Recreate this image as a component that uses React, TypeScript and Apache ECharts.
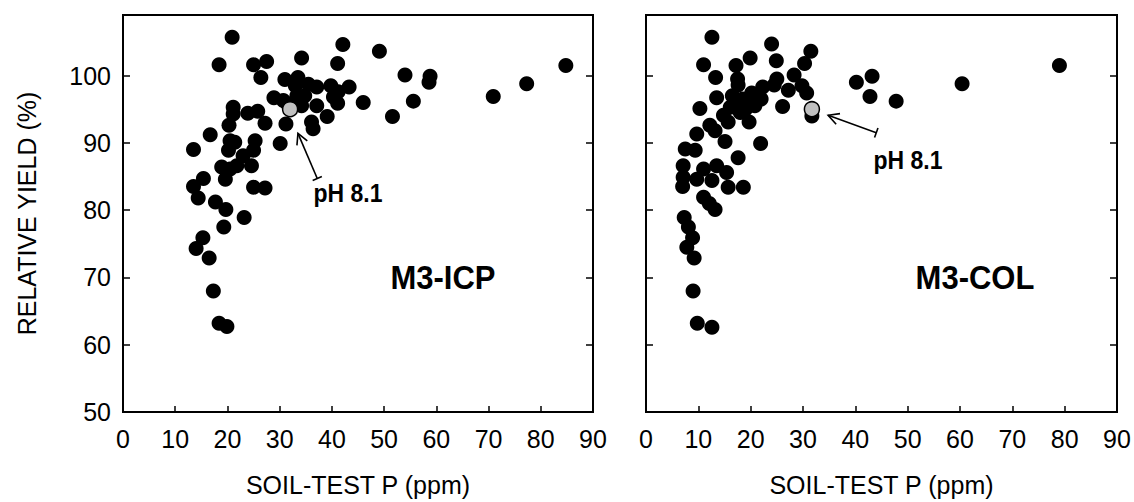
import React, { useEffect, useRef } from "react";
import * as echarts from "echarts";

const xTicks = [0, 10, 20, 30, 40, 50, 60, 70, 80, 90];
const yTicks = [50, 60, 70, 80, 90, 100];

// M3-ICP panel: soil-test P (ppm) and relative yield (%)
const icpP = [20.9, 18.4, 25.0, 27.5, 34.2, 26.4, 31.0, 33.5, 35.5, 37.1, 28.9, 30.7, 33.3, 34.2, 37.1, 31.2, 36.1, 36.4, 21.1, 21.1, 23.9, 25.8, 27.2, 20.3, 16.7, 20.5, 21.4, 25.3, 25.0, 20.2, 30.1, 13.5, 23.0, 24.6, 18.9, 20.5, 21.8, 15.4, 25.0, 27.2, 19.6, 13.5, 14.4, 17.7, 19.7, 23.2, 19.3, 15.3, 14.0, 16.5, 17.3, 18.4, 19.9, 42.1, 49.1, 41.1, 54.0, 58.8, 58.6, 39.8, 43.3, 41.2, 40.3, 41.1, 46.0, 55.6, 39.1, 51.6, 70.9, 77.3, 84.8, 33.0, 34.8, 31.5];
const icpYield = [105.7, 101.6, 101.6, 102.1, 102.6, 99.7, 99.4, 99.7, 98.7, 98.3, 96.7, 96.3, 97.0, 95.5, 95.5, 92.8, 93.1, 92.1, 95.3, 94.3, 94.4, 94.7, 92.9, 92.6, 91.2, 90.3, 90.1, 90.3, 88.9, 88.9, 89.9, 89.0, 88.1, 86.6, 86.4, 86.1, 86.6, 84.7, 83.4, 83.3, 84.6, 83.5, 81.8, 81.2, 80.1, 78.9, 77.5, 75.9, 74.3, 72.9, 68.0, 63.2, 62.7, 104.6, 103.6, 101.8, 100.1, 99.9, 99.0, 98.5, 98.3, 97.6, 96.8, 95.9, 96.0, 96.2, 93.9, 93.9, 96.9, 98.8, 101.5, 98.5, 97.0, 95.8];

// M3-COL panel
const colP = [12.6, 11.0, 13.3, 17.2, 19.9, 24.0, 24.9, 31.5, 30.3, 28.3, 25.0, 17.5, 17.6, 22.3, 24.5, 27.2, 29.8, 30.7, 20.2, 13.5, 17.3, 19.3, 20.8, 16.1, 14.8, 18.0, 19.7, 15.7, 26.1, 10.3, 31.7, 12.2, 13.2, 9.7, 15.1, 21.9, 7.5, 9.4, 17.6, 7.1, 11.0, 13.5, 15.4, 7.1, 9.7, 12.6, 18.6, 7.0, 15.7, 11.0, 12.1, 13.2, 7.3, 8.1, 8.9, 7.8, 9.2, 9.0, 9.8, 12.6, 40.2, 43.2, 42.8, 47.8, 60.4, 79.0, 18.5, 16.5, 19.0, 22.0];
const colYield = [105.7, 101.6, 99.7, 101.5, 102.6, 104.7, 102.2, 103.6, 101.8, 100.1, 99.5, 99.5, 98.6, 98.3, 98.6, 97.8, 98.5, 97.4, 97.4, 96.7, 96.0, 96.0, 95.5, 95.3, 94.1, 94.5, 93.1, 93.1, 95.4, 95.1, 94.0, 92.6, 91.8, 91.3, 90.2, 89.9, 89.1, 88.9, 87.8, 86.6, 86.1, 86.6, 85.6, 84.9, 84.6, 84.4, 83.4, 83.5, 83.4, 81.9, 81.0, 80.1, 78.9, 77.5, 75.9, 74.5, 72.9, 68.0, 63.2, 62.6, 99.0, 99.9, 96.9, 96.2, 98.8, 101.5, 96.5, 97.0, 95.0, 96.5];

// highlighted pH 8.1 site
const icpHighlight = [32.0, 95.0];
const colHighlight = [31.7, 95.0];

// arrows: [headP, headYield, tailP, tailYield]
const icpArrow = [33.5, 91.4, 37.2, 84.7];
const colArrow = [34.8, 94.1, 44.0, 91.5];

const FONT = "'Liberation Sans', Arial, Helvetica, sans-serif";

const pairs = (xs: number[], ys: number[]) => xs.map((x, i) => [x, ys[i]]);

function arrowRender(params: any, api: any) {
  const head = api.coord([api.value(0), api.value(1)]);
  const tail = api.coord([api.value(2), api.value(3)]);
  const dx = head[0] - tail[0];
  const dy = head[1] - tail[1];
  const len = Math.sqrt(dx * dx + dy * dy) || 1;
  const ux = dx / len;
  const uy = dy / len;
  const ah = 12;
  const ang = (28 * Math.PI) / 180;
  const rot = (a: number) => [
    head[0] - ah * (ux * Math.cos(a) - uy * Math.sin(a)),
    head[1] - ah * (ux * Math.sin(a) + uy * Math.cos(a)),
  ];
  const a1 = rot(ang);
  const a2 = rot(-ang);
  const px = -uy;
  const py = ux;
  const bl = 5;
  const st = { stroke: "#000", lineWidth: 1.6, fill: "none" };
  return {
    type: "group",
    children: [
      { type: "line", shape: { x1: tail[0], y1: tail[1], x2: head[0], y2: head[1] }, style: st },
      { type: "polyline", shape: { points: [a1, head, a2] }, style: st },
      {
        type: "line",
        shape: { x1: tail[0] - px * bl, y1: tail[1] - py * bl, x2: tail[0] + px * bl, y2: tail[1] + py * bl },
        style: st,
      },
    ],
  };
}

const label = (text: string, x: number, y: number, size: number) => ({
  type: "text",
  x,
  y,
  scaleY: 1.1,
  style: {
    text,
    fill: "#000",
    font: `bold ${size}px ${FONT}`,
    align: "center",
    verticalAlign: "middle",
    textAlign: "center",
    textVerticalAlign: "middle",
  },
});

export default function App() {
  const ref = useRef<HTMLDivElement>(null);

  useEffect(() => {
    document.body.style.margin = "0";
    if (!ref.current) return;
    const chart = echarts.init(ref.current, undefined, { renderer: "svg" });

    const xAxisBase = (gi: number) => ({
      type: "value",
      gridIndex: gi,
      min: 0,
      max: 90,
      interval: 10,
      name: "SOIL-TEST P (ppm)",
      nameLocation: "middle",
      nameGap: 60,
      nameTextStyle: { color: "#000", fontSize: 25, fontFamily: FONT },
      axisLine: { show: true, lineStyle: { color: "#000", width: 2 } },
      axisTick: { show: true, inside: true, length: 6, lineStyle: { color: "#000", width: 1.5 } },
      axisLabel: {
        color: "#000",
        fontSize: 25,
        fontFamily: FONT,
        margin: 14,
        formatter: (v: number) => (xTicks.indexOf(v) >= 0 ? String(v) : ""),
      },
      splitLine: { show: false },
    });

    const yAxisBase = (gi: number, pos: string, labels: boolean) => ({
      type: "value",
      gridIndex: gi,
      position: pos,
      min: 50,
      max: 109,
      interval: 10,
      name: labels ? "RELATIVE YIELD (%)" : "",
      nameLocation: "middle",
      nameGap: 84,
      nameTextStyle: { color: "#000", fontSize: 25, fontFamily: FONT },
      axisLine: { show: true, lineStyle: { color: "#000", width: 2 } },
      axisTick: { show: true, inside: true, length: 7, lineStyle: { color: "#000", width: 1.5 } },
      axisLabel: {
        show: labels,
        color: "#000",
        fontSize: 25,
        fontFamily: FONT,
        margin: 12,
        showMaxLabel: false,
        formatter: (v: number) => (yTicks.indexOf(v) >= 0 ? String(v) : ""),
      },
      splitLine: { show: false },
    });

    const grids = [
      { left: 123, top: 15, width: 470, height: 397 },
      { left: 646, top: 15, width: 471, height: 397 },
    ].map((g) => ({ ...g, show: true, borderColor: "#000", borderWidth: 2, backgroundColor: "transparent" }));

    const dotSeries = (gi: number, data: number[][]) => ({
      type: "scatter",
      xAxisIndex: gi,
      yAxisIndex: gi * 2,
      data,
      symbolSize: 15,
      itemStyle: { color: "#000", opacity: 1 },
      z: 3,
    });

    const highlightSeries = (gi: number, pt: number[]) => ({
      type: "scatter",
      xAxisIndex: gi,
      yAxisIndex: gi * 2,
      data: [pt],
      symbolSize: 15,
      itemStyle: { color: "#c0c0c0", borderColor: "#000", borderWidth: 1.5, opacity: 1 },
      z: 4,
    });

    const arrowSeries = (gi: number, a: number[]) => ({
      type: "custom",
      xAxisIndex: gi,
      yAxisIndex: gi * 2,
      data: [a],
      renderItem: arrowRender,
      z: 5,
    });

    chart.setOption({
      animation: false,
      backgroundColor: "#fff",
      grid: grids,
      xAxis: [xAxisBase(0), xAxisBase(1)],
      yAxis: [yAxisBase(0, "left", true), yAxisBase(0, "right", false), yAxisBase(1, "left", false), yAxisBase(1, "right", false)],
      series: [
        dotSeries(0, pairs(icpP, icpYield)),
        highlightSeries(0, icpHighlight),
        arrowSeries(0, icpArrow),
        dotSeries(1, pairs(colP, colYield)),
        highlightSeries(1, colHighlight),
        arrowSeries(1, colArrow),
      ],
      graphic: [
        label("M3-ICP", 443, 277, 31),
        label("M3-COL", 975, 277, 31),
        label("pH 8.1", 348, 193, 23),
        label("pH 8.1", 908, 160, 23),
      ],
    });

    return () => chart.dispose();
  }, []);

  return <div ref={ref} style={{ width: 1134, height: 502 }} />;
}
